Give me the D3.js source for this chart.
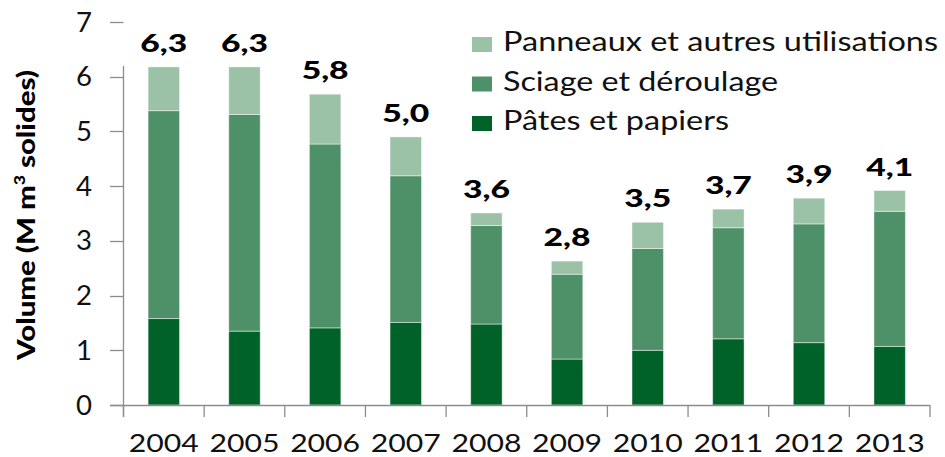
<!DOCTYPE html>
<html><head><meta charset="utf-8">
<script src="https://cdn.jsdelivr.net/npm/d3@7"></script>
<style>body{margin:0;background:#fff}svg{display:block}</style>
</head><body>
<svg id="c" width="945" height="457"></svg>
<script>
const years = ["2004","2005","2006","2007","2008","2009","2010","2011","2012","2013"];
const pates = [1.58,1.35,1.41,1.51,1.48,0.84,1.00,1.21,1.14,1.07];
const sciage = [3.80,3.96,3.36,2.68,1.80,1.55,1.86,2.03,2.17,2.47];
const panneaux = [0.80,0.87,0.91,0.71,0.23,0.24,0.48,0.34,0.47,0.38];
const totalLabels = ["6,3","6,3","5,8","5,0","3,6","2,8","3,5","3,7","3,9","4,1"];
const seriesNames = ["Pâtes et papiers","Sciage et déroulage","Panneaux et autres utilisations"];
const colors = ["#006129","#4e9067","#9bc2a6"];
const yTicks = [0,1,2,3,4,5,6,7];

const svg = d3.select("#c");
const font = "Lato, 'Open Sans', sans-serif";
const x = d3.scaleBand().domain(years).range([123.5, 930]).paddingInner(0.61).paddingOuter(0.305);
const y = d3.scaleLinear().domain([0,7]).range([405, 22]);

const rows = years.map((yr,i)=>({year:yr, p:pates[i], s:sciage[i], a:panneaux[i]}));
const stack = d3.stack().keys(["p","s","a"])(rows);

svg.append("g").selectAll("g").data(stack).join("g")
  .attr("fill",(d,i)=>colors[i])
  .selectAll("rect").data(d=>d).join("rect")
  .attr("x",d=>x(d.data.year))
  .attr("width",x.bandwidth())
  .attr("y",d=>y(d[1]))
  .attr("height",d=>y(d[0])-y(d[1]))
  .attr("stroke","rgba(255,255,255,0.45)").attr("stroke-width",1);

// axes
const axColor = "#8c8c8c";
const ax = svg.append("g");
ax.append("line").attr("x1",123.5).attr("x2",123.5).attr("y1",66).attr("y2",417).attr("stroke",axColor).attr("stroke-width",1.3);
ax.selectAll(".yt").data(yTicks).join("line")
  .attr("x1",110).attr("x2",123.5).attr("y1",d=>Math.round(y(d))+0.5).attr("y2",d=>Math.round(y(d))+0.5)
  .attr("stroke",axColor).attr("stroke-width",1.3);
ax.selectAll(".yl").data(yTicks).join("text")
  .attr("x",92).attr("y",d=>y(d)+9.5).attr("text-anchor","end")
  .attr("font-family",font).attr("font-size",27).attr("fill","#111")
  .attr("textLength",16).attr("lengthAdjust","spacingAndGlyphs")
  .text(d=>d);
ax.append("line").attr("x1",110).attr("x2",930).attr("y1",405.5).attr("y2",405.5).attr("stroke",axColor).attr("stroke-width",1.3);
const bounds = years.map(yr=>x(yr)-x.step()*x.paddingInner()/2).concat([930]);
ax.selectAll(".xt").data(bounds).join("line")
  .attr("x1",d=>d).attr("x2",d=>d).attr("y1",405).attr("y2",417)
  .attr("stroke",axColor).attr("stroke-width",1.3);
ax.selectAll(".xl").data(years).join("text")
  .attr("x",d=>x(d)+x.bandwidth()/2).attr("y",452).attr("text-anchor","middle")
  .attr("font-family",font).attr("font-size",25).attr("fill","#111")
  .attr("textLength",70).attr("lengthAdjust","spacingAndGlyphs")
  .text(d=>d);

// data labels
svg.selectAll(".dl").data(rows).join("text")
  .attr("x",d=>x(d.year)+x.bandwidth()/2)
  .attr("y",d=>y(d.p+d.s+d.a)-15)
  .attr("text-anchor","middle").attr("font-family",font).attr("font-weight","900")
  .attr("font-size",24).attr("fill","#000")
  .attr("textLength",47).attr("lengthAdjust","spacingAndGlyphs")
  .text((d,i)=>totalLabels[i]);

// y title
const yt = svg.append("text")
  .attr("transform","translate(35,215) rotate(-90)")
  .attr("text-anchor","middle").attr("font-family",font).attr("font-weight","900")
  .attr("font-size",25).attr("fill","#000")
  .attr("textLength",290).attr("lengthAdjust","spacingAndGlyphs");
yt.append("tspan").text("Volume (M m");
yt.append("tspan").attr("font-size",15).attr("dy",-10).text("3");
yt.append("tspan").attr("dy",10).text(" solides)");

// legend
const legOrder = [2,1,0];
const lg = svg.append("g").selectAll("g").data(legOrder).join("g")
  .attr("transform",(d,i)=>`translate(472,${37+i*39.5})`);
lg.append("rect").attr("width",20).attr("height",15).attr("fill",d=>colors[d]);
const legLens = [435,275,226];
lg.append("text").attr("x",31).attr("y",14).attr("font-family",font).attr("font-size",26)
  .attr("fill","#111")
  .attr("textLength",(d,i)=>legLens[i]).attr("lengthAdjust","spacingAndGlyphs")
  .text(d=>seriesNames[d]);
</script>
</body></html>
